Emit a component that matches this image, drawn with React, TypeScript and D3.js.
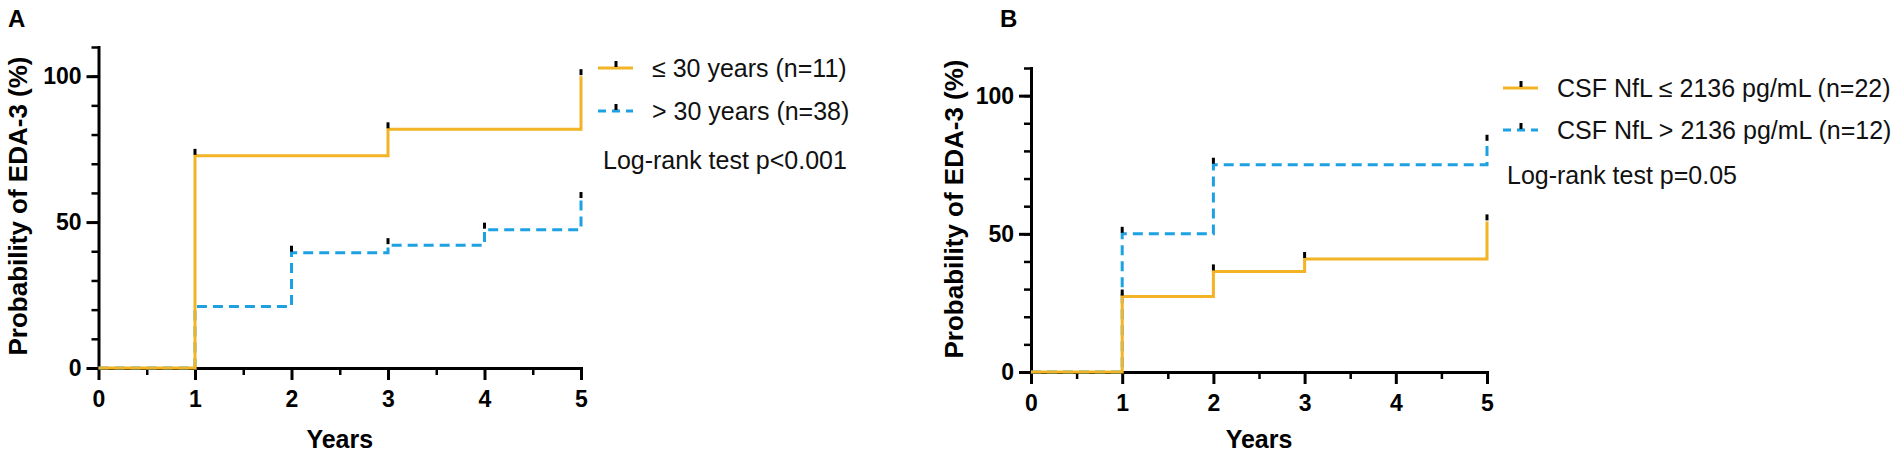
import * as d3 from "d3";
import { useEffect, useRef } from "react";

// follow-up time points (years)
const years = [0, 1, 2, 3, 4, 5];

// panel A: age at onset
const ageLow = [0, 72.7, 72.7, 81.8, 81.8, 100]; // ≤ 30 years
const ageHigh = [0, 21.1, 39.5, 42.1, 47.4, 57.9]; // > 30 years
const ageLowCensor = [1, 3, 5];
const ageHighCensor = [2, 3, 4, 5];
const ageLegend = ["≤ 30 years (n=11)", "> 30 years (n=38)"];
const ageTest = "Log-rank test p<0.001";

// panel B: CSF NfL
const nflLow = [0, 27.3, 36.4, 40.9, 40.9, 54.5]; // ≤ 2136 pg/mL
const nflHigh = [0, 50, 75, 75, 75, 83.3]; // > 2136 pg/mL
const nflLowCensor = [1, 2, 3, 5];
const nflHighCensor = [1, 2, 5];
const nflLegend = ["CSF NfL ≤ 2136 pg/mL (n=22)", "CSF NfL > 2136 pg/mL (n=12)"];
const nflTest = "Log-rank test p=0.05";

const yMajor = [0, 50, 100];
const yMinor = d3.range(0, 111, 10);
const xMinor = [0.5, 1.5, 2.5, 3.5, 4.5];

const ORANGE = "#F2B325";
const BLUE = "#1DA1E2";
const FONT = "Arial, 'Liberation Sans', Helvetica, sans-serif";

type Curve = { values: number[]; censor: number[]; color: string; dashed: boolean };

type PanelOpts = {
    letter: string;
    letterX: number;
    x0: number; x1: number;
    y0: number; yTop: number;
    titleX: number; titleY: number;
    curves: Curve[]; // first drawn first
    legend: string[];
    legendX: number;
    legendY: number[];
    test: string;
    testX: number;
    testY: number;
};

function drawPanel(svg: d3.Selection<SVGSVGElement, unknown, null, undefined>, o: PanelOpts) {
    const g = svg.append("g");

    const x = d3.scaleLinear().domain([0, 5]).range([o.x0, o.x1]);
    const y = d3.scaleLinear().domain([0, 110]).range([o.y0, o.yTop]);

    // panel letter
    g.append("text")
        .attr("x", o.letterX).attr("y", 27)
        .attr("font-family", FONT).attr("font-weight", "bold").attr("font-size", 24)
        .text(o.letter);

    // y axis: minor then major
    const yMin = g.append("g").attr("transform", `translate(${o.x0},0)`)
        .call(d3.axisLeft(y).tickValues(yMinor).tickSize(7).tickSizeOuter(0).tickFormat(() => ""));
    yMin.select(".domain").attr("stroke-width", 3).attr("stroke", "#000").attr("stroke-linecap", "square");
    yMin.selectAll(".tick line").attr("stroke-width", 2.5).attr("stroke", "#000");

    const yMaj = g.append("g").attr("transform", `translate(${o.x0},0)`)
        .call(d3.axisLeft(y).tickValues(yMajor).tickSize(12).tickPadding(5).tickSizeOuter(0));
    yMaj.select(".domain").remove();
    yMaj.selectAll(".tick line").attr("stroke-width", 3).attr("stroke", "#000");
    yMaj.selectAll("text")
        .attr("font-family", FONT).attr("font-weight", "bold").attr("font-size", 23).attr("fill", "#000");

    // x axis
    const xMin = g.append("g").attr("transform", `translate(0,${o.y0})`)
        .call(d3.axisBottom(x).tickValues(xMinor).tickSize(7).tickSizeOuter(0).tickFormat(() => ""));
    xMin.select(".domain").remove();
    xMin.selectAll(".tick line").attr("stroke-width", 2.5).attr("stroke", "#000");

    const xMaj = g.append("g").attr("transform", `translate(0,${o.y0})`)
        .call(d3.axisBottom(x).tickValues(years).tickSize(12).tickPadding(11).tickSizeOuter(0).tickFormat(d3.format("d")));
    xMaj.select(".domain").attr("stroke-width", 3).attr("stroke", "#000").attr("stroke-linecap", "square");
    xMaj.selectAll(".tick line").attr("stroke-width", 3).attr("stroke", "#000");
    xMaj.selectAll("text")
        .attr("font-family", FONT).attr("font-weight", "bold").attr("font-size", 23).attr("fill", "#000");

    // axis titles
    g.append("text")
        .attr("x", (o.x0 + o.x1) / 2).attr("y", 448)
        .attr("text-anchor", "middle")
        .attr("font-family", FONT).attr("font-weight", "bold").attr("font-size", 25)
        .text("Years");

    g.append("text")
        .attr("transform", `translate(${o.titleX},${o.titleY}) rotate(-90)`)
        .attr("text-anchor", "middle")
        .attr("font-family", FONT).attr("font-weight", "bold").attr("font-size", 26)
        .text("Probability of EDA-3 (%)");

    // step curves
    const line = d3.line<number>()
        .x((_, i) => x(years[i]))
        .y(d => y(d))
        .curve(d3.curveStepAfter);

    o.curves.forEach(c => {
        g.append("path")
            .datum(c.values)
            .attr("d", line)
            .attr("fill", "none")
            .attr("stroke", c.color)
            .attr("stroke-width", 3)
            .attr("stroke-dasharray", c.dashed ? "10,6" : null);
    });

    // censor marks
    o.curves.forEach(c => {
        g.selectAll(null)
            .data(c.censor)
            .join("line")
            .attr("x1", t => x(t)).attr("x2", t => x(t))
            .attr("y1", t => y(c.values[years.indexOf(t)]) - 1)
            .attr("y2", t => y(c.values[years.indexOf(t)]) - 7)
            .attr("stroke", "#000")
            .attr("stroke-width", 3);
    });

    // legend (curves order: dashed first in drawing, legend solid first)
    const legendCurves = [o.curves[1], o.curves[0]];
    legendCurves.forEach((c, i) => {
        const ly = o.legendY[i];
        g.append("line")
            .attr("x1", o.legendX).attr("x2", o.legendX + 35)
            .attr("y1", ly).attr("y2", ly)
            .attr("stroke", c.color).attr("stroke-width", 3)
            .attr("stroke-dasharray", c.dashed ? "8,6" : null);
        g.append("line")
            .attr("x1", o.legendX + 18).attr("x2", o.legendX + 18)
            .attr("y1", ly - 1).attr("y2", ly - 7)
            .attr("stroke", "#000").attr("stroke-width", 3);
        g.append("text")
            .attr("x", o.legendX + 54).attr("y", ly)
            .attr("dy", "0.35em")
            .attr("font-family", FONT).attr("font-size", 25).attr("fill", "#111")
            .text(o.legend[i]);
    });

    g.append("text")
        .attr("x", o.testX).attr("y", o.testY)
        .attr("dy", "0.35em")
        .attr("font-family", FONT).attr("font-size", 25).attr("fill", "#111")
        .text(o.test);
}

const App = () => {
    const ref = useRef<SVGSVGElement | null>(null);

    useEffect(() => {
        if (!ref.current) return;
        const svg = d3.select(ref.current);
        svg.selectAll("*").remove();

        drawPanel(svg, {
            letter: "A", letterX: 8,
            x0: 98.5, x1: 581, y0: 368, yTop: 47,
            titleX: 27, titleY: 206,
            curves: [
                { values: ageHigh, censor: ageHighCensor, color: BLUE, dashed: true },
                { values: ageLow, censor: ageLowCensor, color: ORANGE, dashed: false },
            ],
            legend: ageLegend,
            legendX: 598, legendY: [68, 111],
            test: ageTest, testX: 603, testY: 160,
        });

        drawPanel(svg, {
            letter: "B", letterX: 1000,
            x0: 1031, x1: 1487, y0: 372, yTop: 68,
            titleX: 963, titleY: 209,
            curves: [
                { values: nflHigh, censor: nflHighCensor, color: BLUE, dashed: true },
                { values: nflLow, censor: nflLowCensor, color: ORANGE, dashed: false },
            ],
            legend: nflLegend,
            legendX: 1503, legendY: [88, 130],
            test: nflTest, testX: 1507, testY: 175,
        });
    }, []);

    return (
        <svg
            ref={ref}
            width={1901}
            height={455}
            style={{ position: "absolute", left: 0, top: 0, background: "#fff" }}
        />
    );
};

export default App;
